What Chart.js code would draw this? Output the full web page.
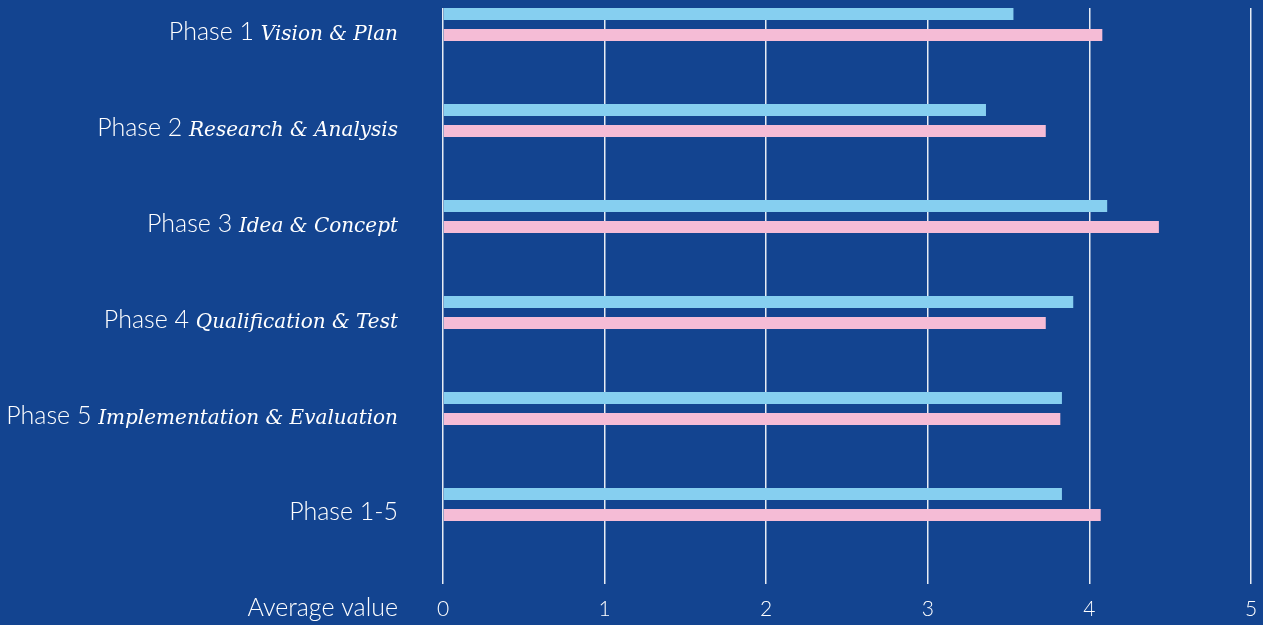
<!DOCTYPE html>
<html>
<head>
<meta charset="utf-8">
<script src="https://cdn.jsdelivr.net/npm/chart.js@4.4.0/dist/chart.umd.min.js"></script>
<style>
  html, body { margin: 0; padding: 0; background: #134490; }
  #wrap { width: 1263px; height: 625px; position: relative; }
</style>
</head>
<body>
<div id="wrap"><canvas id="c" width="1263" height="625"></canvas></div>
<script>
// ---- data ----
const phaseLabels = ['Phase 1', 'Phase 2', 'Phase 3', 'Phase 4', 'Phase 5', 'Phase 1-5'];
const phaseNames = ['Vision & Plan', 'Research & Analysis', 'Idea & Concept', 'Qualification & Test', 'Implementation & Evaluation', ''];
const seriesBlue = [3.53, 3.36, 4.11, 3.90, 3.83, 3.83];
const seriesPink = [4.08, 3.73, 4.43, 3.73, 3.82, 4.07];
const xTickValues = [0, 1, 2, 3, 4, 5];
const axisTitle = 'Average value';

const SANS = 'Lato';
const SERIF = 'DejaVu Serif';

const labelPlugin = {
  id: 'mixedLabels',
  afterDraw(chart) {
    const ctx = chart.ctx;
    const ys = chart.scales.y;
    const xs = chart.scales.x;
    const right = 398;
    ctx.save();
    ctx.fillStyle = '#ffffff';
    ctx.textBaseline = 'alphabetic';
    ctx.textAlign = 'left';
    phaseLabels.forEach((lab, i) => {
      const y = ys.getPixelForValue(i) + 15.5;
      ctx.font = 'italic 400 20px "' + SERIF + '"';
      const name = phaseNames[i];
      const w2 = name ? ctx.measureText(name).width : 0;
      if (name) ctx.fillText(name, right - w2, y);
      ctx.font = '300 25px "' + SANS + '"';
      const txt = name ? lab + ' ' : lab;
      const w1 = ctx.measureText(txt).width;
      ctx.fillText(txt, right - w2 - w1, y);
    });
    ctx.font = '300 25px "' + SANS + '"';
    const wt = ctx.measureText(axisTitle).width;
    ctx.fillText(axisTitle, right - wt, xs.top + 32);
    ctx.restore();
  }
};

const ctx = document.getElementById('c').getContext('2d');
new Chart(ctx, {
  type: 'bar',
  data: {
    labels: phaseLabels,
    datasets: [
      {
        label: 'Series A',
        data: seriesBlue.map((v, i) => ({ x: v, y: i })),
        backgroundColor: '#86cff0',
        borderWidth: 0,
        categoryPercentage: 0.4375,
        barPercentage: 0.5714
      },
      {
        label: 'Series B',
        data: seriesPink.map((v, i) => ({ x: v, y: i })),
        backgroundColor: '#f5bcd6',
        borderWidth: 0,
        categoryPercentage: 0.4375,
        barPercentage: 0.5714
      }
    ]
  },
  options: {
    indexAxis: 'y',
    responsive: false,
    animation: false,
    devicePixelRatio: 1,
    layout: { padding: { top: 8, right: 12, left: 0, bottom: 0 } },
    plugins: { legend: { display: false }, tooltip: { enabled: false } },
    scales: {
      y: {
        type: 'linear',
        reverse: true,
        offset: false,
        bounds: 'data',
        min: -0.171875,
        max: 5.828125,
        afterBuildTicks(scale) { scale.ticks = phaseLabels.map((l, i) => ({ value: i })); },
        ticks: { display: false },
        grid: { display: false },
        border: { display: false },
        afterFit(scale) { scale.width = 443; }
      },
      x: {
        type: 'linear',
        position: 'bottom',
        min: 0,
        max: 5,
        z: 1,
        afterBuildTicks(scale) { scale.ticks = xTickValues.map(v => ({ value: v })); },
        ticks: {
          color: '#ffffff',
          font: { family: SANS, size: 21, weight: '300' },
          padding: 13
        },
        grid: {
          color: 'rgba(255,255,255,0.9)',
          lineWidth: 1.5,
          drawTicks: false
        },
        border: { display: false },
        afterFit(scale) { scale.height = 41; scale.paddingRight = 0; scale.paddingLeft = 0; }
      }
    }
  },
  plugins: [labelPlugin]
});
</script>
</body>
</html>
